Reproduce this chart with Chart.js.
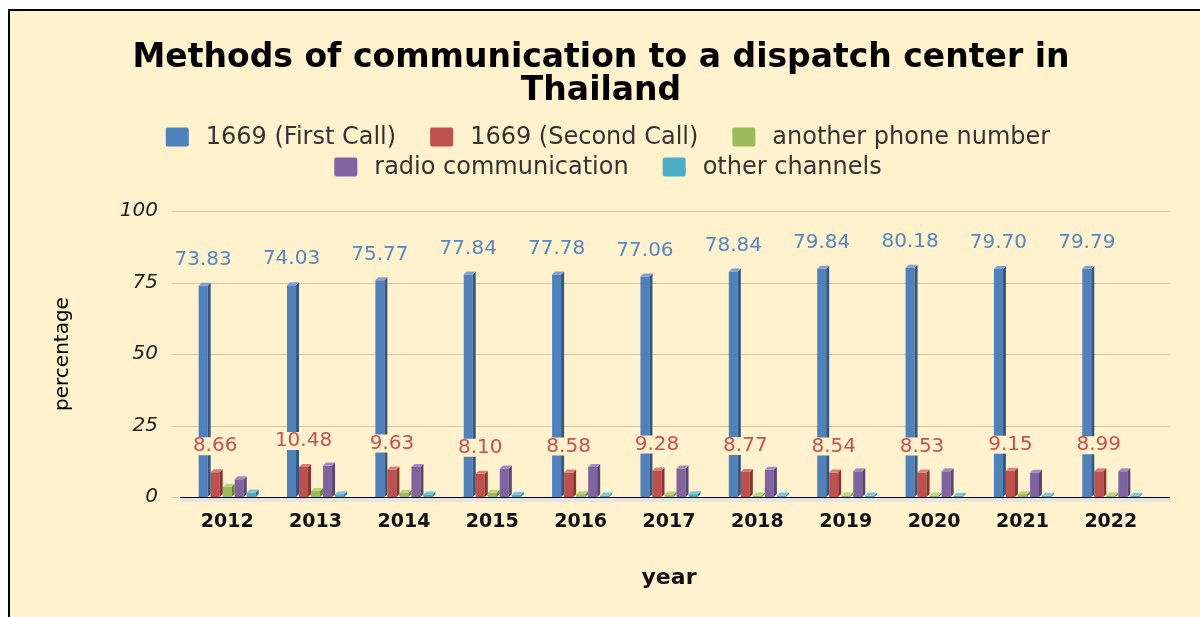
<!DOCTYPE html>
<html>
<head>
    <title>Methods of communication to a dispatch center</title>
    <script src="https://cdn.jsdelivr.net/npm/chart.js@4"></script>
    <style>
        body { margin: 0; background: #ffffff; }
        #box { position: absolute; left: 8px; top: 9px; width: 1200px; height: 620px; border: 2px solid #000; background: #fff2cc; }
    </style>
</head>
<body>
<div id="box">
    <canvas id="chartcanvas" width="1190" height="606"></canvas>
</div>

<script>
    // data
    const years = ['2012', '2013', '2014', '2015', '2016', '2017', '2018', '2019', '2020', '2021', '2022'];
    const firstCall = [73.83, 74.03, 75.77, 77.84, 77.78, 77.06, 78.84, 79.84, 80.18, 79.70, 79.79];
    const secondCall = [8.66, 10.48, 9.63, 8.10, 8.58, 9.28, 8.77, 8.54, 8.53, 9.15, 8.99];
    const otherNumber = [3.6, 2.1, 1.5, 1.5, 1.0, 0.9, 0.5, 0.5, 0.5, 1.0, 0.5];
    const radio = [6.2, 11.0, 10.5, 10.0, 10.5, 10.0, 9.5, 9.0, 9.0, 8.5, 9.0];
    const otherChannels = [1.6, 1.0, 0.9, 0.8, 0.5, 1.0, 0.5, 0.5, 0.4, 0.4, 0.4];
    const yTicks = [0, 25, 50, 75, 100];

    const FONT = '"DejaVu Sans", sans-serif';
    const BG = '#fff2cc';

    // grid lines, floor and base line (a bit wider than the plot, like the 3d original)
    const frame = {
        id: 'frame',
        beforeDatasetsDraw(chart) {
            const ctx = chart.ctx;
            const a = chart.chartArea;
            const y = chart.scales.y;
            ctx.save();
            ctx.lineWidth = 1;
            ctx.strokeStyle = '#d6c6a0';
            yTicks.forEach(v => {
                const py = Math.round(y.getPixelForValue(v)) + 0.5;
                ctx.beginPath();
                ctx.moveTo(a.left - 11, py);
                ctx.lineTo(a.right + 15, py);
                ctx.stroke();
            });
            ctx.fillStyle = '#e4e4e4';
            ctx.fillRect(a.left - 3, a.bottom, a.width + 18, 5);
            ctx.strokeStyle = '#000';
            ctx.beginPath();
            ctx.moveTo(a.left - 3, Math.round(a.bottom) + 0.5);
            ctx.lineTo(a.right + 15, Math.round(a.bottom) + 0.5);
            ctx.stroke();
            ctx.restore();
        }
    };

    // fake 3d: darker side and lighter top on every bar
    const depth = 3;
    const bars3d = {
        id: 'bars3d',
        afterDatasetsDraw(chart) {
            const ctx = chart.ctx;
            ctx.save();
            chart.data.datasets.forEach((ds, i) => {
                chart.getDatasetMeta(i).data.forEach(bar => {
                    const l = bar.x - bar.width / 2;
                    const r = bar.x + bar.width / 2;
                    ctx.fillStyle = ds.sideColor;
                    ctx.beginPath();
                    ctx.moveTo(r, bar.y);
                    ctx.lineTo(r + depth, bar.y - depth);
                    ctx.lineTo(r + depth, bar.base - depth);
                    ctx.lineTo(r, bar.base);
                    ctx.closePath();
                    ctx.fill();
                    ctx.fillStyle = ds.topColor;
                    ctx.beginPath();
                    ctx.moveTo(l, bar.y);
                    ctx.lineTo(l + depth, bar.y - depth);
                    ctx.lineTo(r + depth, bar.y - depth);
                    ctx.lineTo(r, bar.y);
                    ctx.closePath();
                    ctx.fill();
                });
            });
            ctx.restore();
        }
    };

    // value labels for the two 1669 series
    const valueLabels = {
        id: 'valueLabels',
        afterDatasetsDraw(chart) {
            const ctx = chart.ctx;
            ctx.save();
            ctx.font = '20px ' + FONT;
            ctx.textAlign = 'center';
            ctx.textBaseline = 'middle';
            [0, 1].forEach(i => {
                const ds = chart.data.datasets[i];
                chart.getDatasetMeta(i).data.forEach((bar, j) => {
                    const txt = ds.data[j].toFixed(2);
                    const ly = bar.y - 26;
                    if (i == 1) {
                        const w = ctx.measureText(txt).width;
                        ctx.fillStyle = BG;
                        ctx.beginPath();
                        ctx.roundRect(bar.x - w / 2 - 2, ly - 9, w + 4, 18, 4);
                        ctx.fill();
                    }
                    ctx.fillStyle = ds.labelColor;
                    ctx.fillText(txt, bar.x, ly);
                });
            });
            ctx.restore();
        }
    };

    // legend in two centred rows, 3 + 2 items, like the original
    const legendRows = [[0, 1, 2], [3, 4]];
    const legendRowY = [126, 156];
    const legendBoxes = {
        id: 'legendBoxes',
        afterDraw(chart) {
            const ctx = chart.ctx;
            ctx.save();
            ctx.font = '24px ' + FONT;
            ctx.textBaseline = 'middle';
            ctx.textAlign = 'left';
            legendRows.forEach((row, r) => {
                const items = row.map(i => {
                    const ds = chart.data.datasets[i];
                    return { ds: ds, w: 40 + ctx.measureText(ds.label).width };
                });
                const total = items.reduce((s, it) => s + it.w, 0) + 34 * (items.length - 1);
                let x = chart.width / 2 + 3 - total / 2;
                const y = legendRowY[r];
                items.forEach(it => {
                    ctx.fillStyle = it.ds.backgroundColor;
                    ctx.beginPath();
                    ctx.roundRect(x, y - 9.5, 23, 19, 2);
                    ctx.fill();
                    ctx.fillStyle = '#333';
                    ctx.fillText(it.ds.label, x + 40, y + 1);
                    x += it.w + 34;
                });
            });
            ctx.restore();
        }
    };

    const ctx = document.getElementById('chartcanvas');

    var chart = new Chart(ctx, {
        type: 'bar',
        data: {
            labels: years,
            datasets: [
                { label: '1669 (First Call)', data: firstCall, backgroundColor: '#4f81bd', sideColor: '#34577f', topColor: '#7ea3d3', labelColor: '#5687c6' },
                { label: '1669 (Second Call)', data: secondCall, backgroundColor: '#c0504d', sideColor: '#853634', topColor: '#d77e7b', labelColor: '#c9514e' },
                { label: 'another phone number', data: otherNumber, backgroundColor: '#9bbb59', sideColor: '#6c833d', topColor: '#b7d283' },
                { label: 'radio communication', data: radio, backgroundColor: '#8064a2', sideColor: '#584570', topColor: '#a28bc0' },
                { label: 'other channels', data: otherChannels, backgroundColor: '#4bacc6', sideColor: '#33778a', topColor: '#7cc6da' }
            ]
        },
        options: {
            responsive: false,
            devicePixelRatio: 1,
            animation: false,
            categoryPercentage: 0.68,
            barPercentage: 0.75,
            layout: { padding: { left: 37, right: 45, top: 0, bottom: 22 } },
            plugins: {
                title: {
                    display: true,
                    text: ['Methods of communication to a dispatch center in', 'Thailand'],
                    color: '#000',
                    font: { family: FONT, size: 33, weight: 'bold', lineHeight: 1.0 },
                    padding: { top: 31, bottom: 103 }
                },
                legend: { display: false },
                tooltip: { enabled: false }
            },
            scales: {
                x: {
                    grid: { display: false, drawTicks: false },
                    border: { display: false },
                    ticks: { color: '#111', padding: 14, font: { family: FONT, size: 19, weight: 'bold' } },
                    title: { display: true, text: 'year', color: '#111', font: { family: FONT, size: 22, weight: 'bold' } },
                    afterFit: (s) => { s.height = 98; }
                },
                y: {
                    min: 0,
                    max: 100,
                    afterBuildTicks: (s) => { s.ticks = yTicks.map(v => ({ value: v })); },
                    grid: { display: false, drawTicks: false },
                    border: { display: false },
                    ticks: { color: '#222', padding: 25, font: { family: FONT, size: 20, style: 'italic' } },
                    title: { display: true, text: 'percentage', color: '#000', font: { family: FONT, size: 20 } },
                    afterFit: (s) => { s.width = 136; }
                }
            }
        },
        plugins: [frame, bars3d, valueLabels, legendBoxes]
    });
</script>
</body>
</html>
